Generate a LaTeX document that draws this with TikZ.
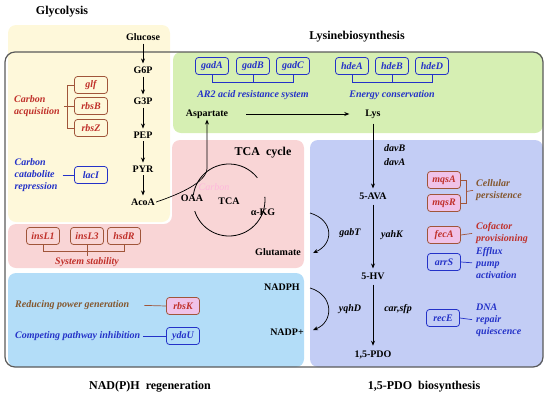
\documentclass[tikz,border=0pt]{standalone}
\usepackage{fontspec}
\setmainfont{Liberation Serif}
\usetikzlibrary{arrows.meta,calc}
\definecolor{cyel}{HTML}{FEF8DA}
\definecolor{cgreen}{HTML}{D6EFB3}
\definecolor{cpink}{HTML}{F9D5D6}
\definecolor{cpurple}{HTML}{C3CDF5}
\definecolor{clblue}{HTML}{B3DDF8}
\definecolor{cred}{HTML}{C0302A}
\definecolor{colive}{HTML}{84572E}
\definecolor{cbrown}{HTML}{A0553A}
\definecolor{cblue}{HTML}{2432C8}
\definecolor{cframe}{HTML}{5A5A5A}
\definecolor{cgfill}{HTML}{F0C2E8}
\definecolor{cghost}{HTML}{FFB8DC}
\tikzset{
  met/.style={font=\bfseries\fontsize{10}{12}\selectfont, inner sep=1pt},
  ttl/.style={font=\bfseries\fontsize{12}{14}\selectfont, inner sep=1pt},
  gene/.style={draw, rounded corners=3pt, line width=0.8pt, minimum width=33pt, minimum height=17pt, inner sep=1pt, font=\bfseries\itshape\fontsize{10}{12}\selectfont},
  rgene/.style={gene, draw=cbrown, text=cred},
  bgene/.style={gene, draw=cblue, text=cblue},
  rlab/.style={text=cred, font=\bfseries\itshape\fontsize{10}{12}\selectfont, align=left, inner sep=1pt},
  blab/.style={text=cblue, font=\bfseries\itshape\fontsize{10}{12}\selectfont, align=left, inner sep=1pt},
  enz/.style={font=\bfseries\itshape\fontsize{10}{12}\selectfont, inner sep=1pt},
  arr/.style={-{Stealth[length=5pt,width=4pt]}, line width=0.7pt},
  rline/.style={draw=cbrown, line width=0.7pt},
  bline/.style={draw=cblue, line width=0.7pt}
}
\begin{document}
\begin{tikzpicture}[x=1pt,y=-1pt]
\useasboundingbox (0,0) rectangle (550,400);
% regions
\fill[cyel, rounded corners=8] (8,25) rectangle (170,222);
\fill[cgreen, rounded corners=8] (173,52) rectangle (543,133);
\fill[cpink, rounded corners=8] (172,140) -- (304,140) -- (304,268) -- (8,268) -- (8,224) -- (172,224) -- cycle;
\fill[cpurple, rounded corners=8] (310,140) rectangle (543,367);
\fill[clblue, rounded corners=8] (8,273) rectangle (304,367);
\draw[cframe, line width=1.2pt, rounded corners=10] (5,52) rectangle (543,367);

% titles
\node[ttl] (tglyc) at (62,12) {Glycolysis};
\node[ttl] (tlys) at (357,37) {Lysinebiosynthesis};
\node[ttl] (ttca) at (263,153) {TCA\ \ cycle};
\node[ttl] (tnad) at (150,387) {NAD(P)H\ \ regeneration};
\node[ttl] (tpdo) at (424,387) {1,5-PDO\ \ biosynthesis};

% glycolysis chain
\node[met] (glc) at (143,37) {Glucose};
\node[met] (g6p) at (143,70) {G6P};
\node[met] (g3p) at (143,101) {G3P};
\node[met] (pep) at (143,135) {PEP};
\node[met] (pyr) at (143,169) {PYR};
\node[met] (acoa) at (143,202) {AcoA};
\draw[arr, shorten <=2pt, shorten >=2pt] (glc) -- (g6p);
\draw[arr, shorten <=2pt, shorten >=2pt] (g6p) -- (g3p);
\draw[arr, shorten <=2pt, shorten >=2pt] (g3p) -- (pep);
\draw[arr, shorten <=2pt, shorten >=2pt] (pep) -- (pyr);
\draw[arr, shorten <=2pt, shorten >=2pt] (pyr) -- (acoa);

% carbon acquisition
\node[rgene] (glf) at (91,85) {glf};
\node[rgene] (rbsB) at (91,106) {rbsB};
\node[rgene] (rbsZ) at (91,128) {rbsZ};
\node[rlab, align=left] (cacq) at (37,106) {Carbon\\acquisition};
\draw[rline] (glf.west) -- ++(-6.5,0) |- (rbsZ.west);
\draw[rline, shorten <=3pt] (cacq.east) -- (rbsB.west);

% carbon catabolite repression
\node[bgene] (lacI) at (91,175) {lacI};
\node[blab] (ccr) at (36,175) {Carbon\\catabolite\\repression};
\draw[bline, shorten <=4pt] (ccr.east) -- (lacI.west);

% system stability
\node[rgene] (insL1) at (43,236) {insL1};
\node[rgene] (insL3) at (87,236) {insL3};
\node[rgene] (hsdR) at (124,236) {hsdR};
\node[rlab] (ss) at (87,262) {System stability};
\draw[rline] (insL1.south) -- ++(0,6) -| (hsdR.south);
\draw[rline] (insL3.south) -- (ss.north);

% green genes
\node[bgene] (gadA) at (212,66) {gadA};
\node[bgene] (gadB) at (253,66) {gadB};
\node[bgene] (gadC) at (293,66) {gadC};
\node[blab] (ar2) at (253,95) {AR2 acid resistance system};
\draw[bline] (gadA.south) -- ++(0,7.5) -| (gadC.south);
\draw[bline] (gadB.south) -- ++(0,7.5);
\node[bgene] (hdeA) at (352,66) {hdeA};
\node[bgene] (hdeB) at (392,66) {hdeB};
\node[bgene] (hdeD) at (432,66) {hdeD};
\node[blab] (econ) at (392,95) {Energy conservation};
\draw[bline] (hdeA.south) -- ++(0,7.5) -| (hdeD.south);
\draw[bline] (hdeB.south) -- ++(0,7.5);

% lysine pathway
\node[met] (asp) at (207,114) {Aspartate};
\node[met] (lys) at (373,114) {Lys};
\draw[arr, shorten <=17pt, shorten >=15pt] (asp) -- (lys);
\node[met] (ava) at (373,196) {5-AVA};
\node[met] (hv) at (373,276) {5-HV};
\node[met] (pdo) at (373,355) {1,5-PDO};
\draw[arr, shorten <=4pt, shorten >=3pt] (lys) -- (ava);
\draw[arr, shorten <=4pt, shorten >=3pt] (ava) -- (hv);
\draw[arr, shorten <=4pt, shorten >=4pt] (hv) -- (pdo);
\node[enz, anchor=west] (davB) at (383,148) {davB};
\node[enz, anchor=west] (davA) at (383,162) {davA};
\node[enz] (gabT) at (350,233) {gabT};
\node[enz] (yahK) at (392,235) {yahK};
\node[enz] (yqhD) at (350,309) {yqhD};
\node[enz] (carsfp) at (398,309) {car,sfp};

% TCA
\node[met] (oaa) at (192,198) {OAA};
\node[met] (tca) at (229,201) {TCA};
\node[met] (akg) at (263,212) {α-KG};
\node[text=cghost, font=\itshape\fontsize{10}{12}\selectfont, inner sep=0pt] (ghost) at (214,187) {Carbon};
\node[met] (glu) at (278,252) {Glutamate};
\draw[line width=0.8pt] (229,200) ++(-5:36) arc[start angle=-5, end angle=162, radius=36];
\draw[line width=0.8pt] (229,200) ++(188:36) arc[start angle=188, end angle=322, radius=36];
\coordinate (joint) at (207,168);
\draw[arr] (acoa.east) .. controls (180,194) and (207,182) .. (joint) -- (asp.south);

% curved arrows
\coordinate (ga) at (310,213);
\coordinate (gb) at (313,253);
\draw[arr] (ga) .. controls (334,220) and (334,244) .. (gb);
\node[met] (nadph) at (282,287) {NADPH};
\node[met] (nadp) at (287,332) {NADP+};
\coordinate (na) at (310,288);
\coordinate (nb) at (313,330);
\draw[arr] (na) .. controls (334,295) and (334,322) .. (nb);

% right genes
\node[rgene, fill=cgfill] (mqsA) at (444,180) {mqsA};
\node[rgene, fill=cgfill] (mqsR) at (444,203) {mqsR};
\node[rlab, text=colive, anchor=west] (cper) at (475,190) {Cellular\\persistence};
\draw[rline] (mqsA.east) -- ++(5.5,0) |- (mqsR.east);
\draw[rline, shorten >=2pt] ($(mqsA.east)!0.5!(mqsR.east)+(5.5,0)$) -- (cper.west);
\node[rgene, fill=cgfill] (fecA) at (444,235) {fecA};
\node[rlab, anchor=west] (cof) at (475,233) {Cofactor\\provisioning};
\draw[rline, shorten >=3pt] (fecA.east) -- (cof.west);
\node[bgene] (arrS) at (444,262) {arrS};
\node[blab, anchor=west] (eff) at (475,263) {Efflux\\pump\\activation};
\draw[bline, shorten >=3pt] (arrS.east) -- (eff.west);
\node[bgene] (recE) at (443,318) {recE};
\node[blab, anchor=west] (dna) at (475,320) {DNA\\repair\\quiescence};
\draw[bline, shorten >=3pt] (recE.east) -- (dna.west);

% NAD(P)H region
\node[rgene, fill=cgfill] (rbsK) at (183,306) {rbsK};
\node[rlab, text=colive, anchor=west] (rpg) at (14,305) {Reducing power generation};
\draw[rline, shorten <=14pt] (rpg.east) -- (rbsK.west);
\node[bgene] (ydaU) at (183,336) {ydaU};
\node[blab, anchor=west] (cpi) at (14,336) {Competing pathway inhibition};
\draw[bline, shorten <=2pt] (cpi.east) -- (ydaU.west);
\end{tikzpicture}
\end{document}
